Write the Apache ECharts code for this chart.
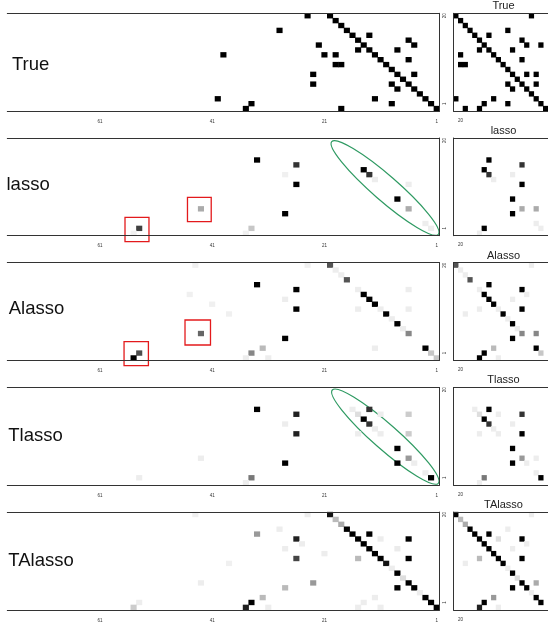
<!DOCTYPE html>
<html>
<head>
<meta charset="utf-8">
<script src="https://cdn.jsdelivr.net/npm/echarts@6/dist/echarts.min.js"></script>
<style>
html, body { margin: 0; padding: 0; background: #fff; }
#chart { width: 548px; height: 624px; }
</style>
</head>
<body>
<div id="chart"></div>
<script>
// one row per method
const methods = ['True', 'lasso', 'Alasso', 'Tlasso', 'TAlasso'];

// tick labels
const leftTickLabels = ['61', '41', '21', '1'];
const rightColTickLabels = ['20'];
const rightRowTickIdx = [1, 19];
const rightRowTickText = ['1', '20'];

// categories: left panel columns 1..77 (drawn right to left), rows 1..20 (bottom up)
const leftCols = [];
for (let k = 1; k <= 77; k++) leftCols.push(String(k));
const rightCols = [];
for (let k = 21; k >= 2; k--) rightCols.push(String(k));
const rowCats = [];
for (let k = 1; k <= 20; k++) rowCats.push(String(k));

// cells: [column, row, weight]  (weight 1 = black, small = light grey)
// left panel column = lag index counted from the right, right panel column = position from the left
const trueLeft = [
    [1,1,1],[2,2,1],[3,3,1],[4,4,1],[5,5,1],[6,6,1],[7,7,1],[8,8,1],[9,9,1],[10,10,1],
    [11,11,1],[12,12,1],[13,13,1],[14,14,1],[15,15,1],[16,16,1],[17,17,1],[18,18,1],[19,19,1],[20,20,1],
    [24,20,1],[29,17,1],[13,16,1],[6,15,1],[22,14,1],[5,14,1],[15,13,1],[8,13,1],[39,12,1],[21,12,1],
    [19,12,1],[6,11,1],[19,10,1],[18,10,1],[23,8,1],[5,8,1],[23,6,1],[9,6,1],[8,5,1],[40,3,1],
    [12,3,1],[9,2,1],[34,2,1],[35,1,1],[18,1,1]
];
const trueRight = [
    [1,20,1],[2,19,1],[3,18,1],[4,17,1],[5,16,1],[6,15,1],[7,14,1],[8,13,1],[9,12,1],[10,11,1],
    [11,10,1],[12,9,1],[13,8,1],[14,7,1],[15,6,1],[16,5,1],[17,4,1],[18,3,1],[19,2,1],[20,1,1],
    [17,20,1],[8,16,1],[12,17,1],[15,15,1],[16,14,1],[19,14,1],[6,13,1],[13,13,1],[2,12,1],[15,11,1],
    [2,10,1],[3,10,1],[12,6,1],[13,5,1],[16,8,1],[18,8,1],[18,6,1],[1,3,1],[9,3,1],[7,2,1],
    [12,2,1],[3,1,1],[6,1,1]
];
const lassoLeft = [
    [33,16,1],[26,15,0.8],[28,13,0.06],[26,11,1],[28,5,1],[43,6,0.33],[54,2,0.75],[55,1,0.06],
    [34,2,0.22],[35,1,0.06],[14,14,1],[13,13,0.8],[12,12,0.07],[8,8,1],[6,11,0.07],[6,6,0.33],
    [3,3,0.07],[2,2,0.07]
];
const lassoRight = [
    [8,16,1],[7,14,1],[8,13,0.8],[9,12,0.07],[13,13,0.07],[15,15,0.8],[15,11,1],[13,8,1],
    [15,6,0.33],[18,6,0.33],[13,5,1],[18,3,0.07],[19,2,0.07],[7,2,1],[6,1,0.07]
];
const alassoLeft = [
    [44,20,0.06],[24,20,0.06],[20,20,0.67],[19,19,0.07],[18,18,0.07],[17,17,0.67],[15,15,0.07],
    [14,14,1],[13,13,1],[12,12,1],[11,11,0.07],[10,10,1],[9,9,0.07],[8,8,1],[7,7,0.07],[6,6,0.47],
    [15,11,0.07],[6,15,0.07],[6,11,0.07],[12,3,0.07],[3,3,1],[2,2,0.22],[1,1,0.22],[33,16,1],
    [26,15,1],[45,14,0.06],[28,13,0.07],[41,12,0.06],[26,11,1],[38,10,0.06],[43,6,0.6],[28,5,1],
    [32,3,0.27],[34,2,0.47],[35,1,0.07],[31,1,0.07],[54,2,0.7],[55,1,1]
];
const alassoRight = [
    [1,20,0.67],[2,19,0.07],[3,18,0.07],[4,17,0.67],[8,16,1],[6,15,0.07],[7,14,1],[8,13,1],
    [9,12,1],[10,11,0.07],[11,10,1],[12,9,0.07],[13,8,1],[14,7,0.07],[15,6,0.47],[15,15,1],
    [16,14,0.07],[13,13,0.07],[6,11,0.07],[3,10,0.07],[17,20,0.07],[15,11,1],[13,5,1],[18,6,0.47],
    [18,3,1],[19,2,0.22],[9,3,0.27],[7,2,1],[6,1,1],[10,1,0.07]
];
const tlassoLeft = [
    [16,16,0.07],[15,15,0.13],[13,16,0.8],[11,15,0.07],[14,14,1],[13,13,0.8],[12,12,0.07],
    [11,11,0.07],[15,11,0.07],[8,8,1],[6,15,0.2],[6,11,0.2],[6,6,0.4],[5,5,0.07],[8,5,1],
    [3,3,0.07],[2,2,1],[33,16,1],[26,15,0.87],[28,13,0.07],[26,11,0.87],[28,5,1],[43,6,0.07],
    [54,2,0.07],[34,2,0.53],[35,1,0.07]
];
const tlassoRight = [
    [5,16,0.07],[6,15,0.13],[8,16,1],[10,15,0.07],[7,14,1],[8,13,0.8],[9,12,0.07],[10,11,0.07],
    [6,11,0.07],[13,13,0.07],[15,15,0.8],[15,11,1],[13,8,1],[15,6,0.4],[16,5,0.07],[13,5,1],
    [18,6,0.07],[18,3,0.07],[19,2,1],[7,2,0.53],[6,1,0.07]
];
const talassoLeft = [
    [24,20,0.07],[20,20,0.93],[19,19,0.27],[18,18,0.33],[17,17,1],[16,16,1],[15,15,1],[14,14,1],
    [13,13,1],[12,12,1],[11,11,1],[10,10,0.93],[9,9,0.07],[8,8,1],[7,7,0.13],[6,6,1],[5,5,1],
    [4,4,0.07],[3,3,1],[2,2,1],[1,1,1],[13,16,1],[11,15,0.07],[6,15,1],[8,13,0.08],[15,11,0.27],
    [6,11,1],[21,12,0.07],[23,6,0.4],[8,5,1],[12,3,0.07],[14,2,0.07],[15,1,0.07],[11,1,0.07],
    [44,20,0.06],[29,17,0.07],[33,16,0.4],[26,15,0.87],[25,14,0.07],[28,13,0.07],[38,10,0.06],
    [26,11,0.73],[43,6,0.07],[28,5,0.27],[32,3,0.27],[34,2,1],[35,1,0.87],[31,1,0.07],
    [54,2,0.07],[55,1,0.2]
];
const talassoRight = [
    [1,20,1],[2,19,0.27],[3,18,0.33],[4,17,1],[5,16,1],[6,15,1],[7,14,1],[8,13,1],[9,12,1],
    [10,11,1],[11,10,1],[12,9,0.07],[13,8,1],[14,7,0.13],[15,6,1],[16,5,1],[17,4,0.07],[18,3,1],
    [19,2,1],[8,16,1],[10,15,0.13],[15,15,1],[16,14,0.07],[13,13,0.07],[12,17,0.07],[17,20,0.07],
    [6,11,0.27],[3,10,0.07],[15,11,1],[13,5,1],[18,6,0.33],[9,3,0.4],[7,2,1],[6,1,0.87],[10,1,0.07]
];
const leftCells = [trueLeft, lassoLeft, alassoLeft, tlassoLeft, talassoLeft];
const rightCells = [trueRight, lassoRight, alassoRight, tlassoRight, talassoRight];

// annotations, in cell units of the left panel of a row
const redBoxes = [
    {row: 1, cols: [52.26, 56.53], rows: [-0.73, 4.27]},
    {row: 1, cols: [41.17, 45.4], rows: [3.37, 8.36]},
    {row: 2, cols: [52.36, 56.7], rows: [-0.59, 4.33]},
    {row: 2, cols: [41.3, 45.84], rows: [3.65, 8.77]}
];
const greenEllipses = [
    {row: 1, from: [19.7, 19.74], to: [0.71, 0.79]},
    {row: 3, from: [19.6, 19.97], to: [0.71, 0.87]}
];

// layout
const FONT = '"Liberation Sans", Arial, sans-serif';
const rowTops = [13.3, 138, 262.7, 387.4, 512.1];
const panelH = 97.7;
const labelBase = [71.7, 191.7, 315, 442.7, 567.7];
const labelX = [12, 6.5, 8.7, 8.3, 8.3];
const lineStyle = {color: '#333', width: 1};

let chart = echarts.init(document.getElementById('chart'));

let grids = [], xAxes = [], yAxes = [], series = [];

methods.forEach(function (m, i) {
    let top = rowTops[i];
    let pl = 2 * i, pr = 2 * i + 1;

    // wide panel (lags), right border only
    grids.push({left: 7.3, top: top, width: 432.2, height: panelH});
    // small panel, clipped by the page edge
    grids.push({left: 453.5, top: top, width: 100, height: panelH});

    // left panel axes (drawn above the cells)
    xAxes.push({
        gridIndex: pl, type: 'category', data: leftCols, inverse: true, position: 'bottom', z: 10,
        axisLine: {lineStyle: lineStyle},
        axisTick: {alignWithLabel: true, length: 4, lineStyle: lineStyle,
            interval: function (idx, val) { return leftTickLabels.indexOf(val) >= 0; }},
        axisLabel: {fontSize: 4.5, color: '#333', margin: 8, fontFamily: FONT,
            interval: function (idx, val) { return leftTickLabels.indexOf(val) >= 0; }},
        splitLine: {show: false}
    });
    xAxes.push({
        gridIndex: pl, type: 'category', data: leftCols, inverse: true, position: 'top', z: 10,
        axisLine: {lineStyle: lineStyle}, axisTick: {show: false}, axisLabel: {show: false}
    });
    // right panel axes
    xAxes.push({
        gridIndex: pr, type: 'category', data: rightCols, position: 'bottom', z: 10,
        axisLine: {lineStyle: lineStyle},
        axisTick: {alignWithLabel: true, length: 3, lineStyle: lineStyle,
            interval: function (idx, val) { return rightColTickLabels.indexOf(val) >= 0; }},
        axisLabel: {fontSize: 4.5, color: '#333', margin: 7, fontFamily: FONT,
            interval: function (idx, val) { return rightColTickLabels.indexOf(val) >= 0; }},
        splitLine: {show: false}
    });
    xAxes.push({
        gridIndex: pr, type: 'category', data: rightCols, position: 'top', z: 10,
        axisLine: {lineStyle: lineStyle}, axisTick: {show: false}, axisLabel: {show: false}
    });

    yAxes.push({
        gridIndex: pl, type: 'category', data: rowCats, position: 'right', z: 10,
        axisLine: {show: true, lineStyle: lineStyle}, axisTick: {show: false}, axisLabel: {show: false}
    });
    yAxes.push({
        gridIndex: pr, type: 'category', data: rowCats, position: 'left', z: 10,
        axisLine: {show: true, lineStyle: lineStyle},
        axisTick: {alignWithLabel: true, length: 3, lineStyle: lineStyle,
            interval: function (idx) { return rightRowTickIdx.indexOf(idx) >= 0; }},
        axisLabel: {fontSize: 4.5, color: '#333', margin: 6, rotate: 90, fontFamily: FONT,
            interval: function (idx) { return rightRowTickIdx.indexOf(idx) >= 0; },
            formatter: function (val, idx) { return rightRowTickText[rightRowTickIdx.indexOf(idx)]; }}
    });

    series.push({
        type: 'heatmap', xAxisIndex: 2 * pl, yAxisIndex: pl, silent: true,
        data: leftCells[i].map(function (d) { return [d[0] - 1, d[1] - 1, d[2]]; }),
        itemStyle: {borderWidth: 0}, emphasis: {disabled: true}
    });
    series.push({
        type: 'heatmap', xAxisIndex: 2 * pr, yAxisIndex: pr, silent: true,
        data: rightCells[i].map(function (d) { return [d[0] - 1, d[1] - 1, d[2]]; }),
        itemStyle: {borderWidth: 0}, emphasis: {disabled: true}
    });
});

let option = {
    backgroundColor: '#fff',
    animation: false,
    grid: grids,
    xAxis: xAxes,
    yAxis: yAxes,
    visualMap: {
        show: false, type: 'continuous', min: 0, max: 1, dimension: 2,
        seriesIndex: series.map(function (s, k) { return k; }),
        inRange: {color: ['#ffffff', '#000000']}
    },
    series: series
};
chart.setOption(option);

// cell units -> pixels, linear through two cell centres of the row's left panel
function toPx(row, col, r) {
    let p0 = chart.convertToPixel({xAxisIndex: 4 * row, yAxisIndex: 2 * row}, [0, 0]);
    let p1 = chart.convertToPixel({xAxisIndex: 4 * row, yAxisIndex: 2 * row}, [1, 1]);
    return [p0[0] + (col - 1) * (p1[0] - p0[0]), p0[1] + (r - 1) * (p1[1] - p0[1])];
}

let graphics = [];
methods.forEach(function (m, i) {
    graphics.push({
        type: 'text', x: labelX[i], y: labelBase[i] - 0.3465 * 18.5, silent: true,
        style: {text: m, fontSize: 18.5, fontFamily: FONT, fill: '#111',
            textAlign: 'left', textVerticalAlign: 'middle'}
    });
    graphics.push({
        type: 'text', x: 503.5, y: rowTops[i] - 3.3 - 0.3465 * 11, silent: true,
        style: {text: m, fontSize: 11, fontFamily: FONT, fill: '#222',
            textAlign: 'center', textVerticalAlign: 'middle'}
    });
});
redBoxes.forEach(function (b) {
    let a = toPx(b.row, b.cols[1], b.rows[1]);
    let c = toPx(b.row, b.cols[0], b.rows[0]);
    graphics.push({
        type: 'rect', silent: true,
        shape: {x: a[0], y: a[1], width: c[0] - a[0], height: c[1] - a[1]},
        style: {fill: 'none', stroke: '#e31a1c', lineWidth: 1.3}
    });
});
greenEllipses.forEach(function (e) {
    let a = toPx(e.row, e.from[0], e.from[1]);
    let b = toPx(e.row, e.to[0], e.to[1]);
    let dx = b[0] - a[0], dy = b[1] - a[1];
    graphics.push({
        type: 'ellipse', silent: true,
        x: (a[0] + b[0]) / 2, y: (a[1] + b[1]) / 2,
        rotation: -Math.atan2(dy, dx),
        shape: {cx: 0, cy: 0, rx: Math.sqrt(dx * dx + dy * dy) / 2, ry: 12.5},
        style: {fill: 'none', stroke: '#2e9a62', lineWidth: 1.2}
    });
});
chart.setOption({graphic: graphics});
</script>
</body>
</html>
